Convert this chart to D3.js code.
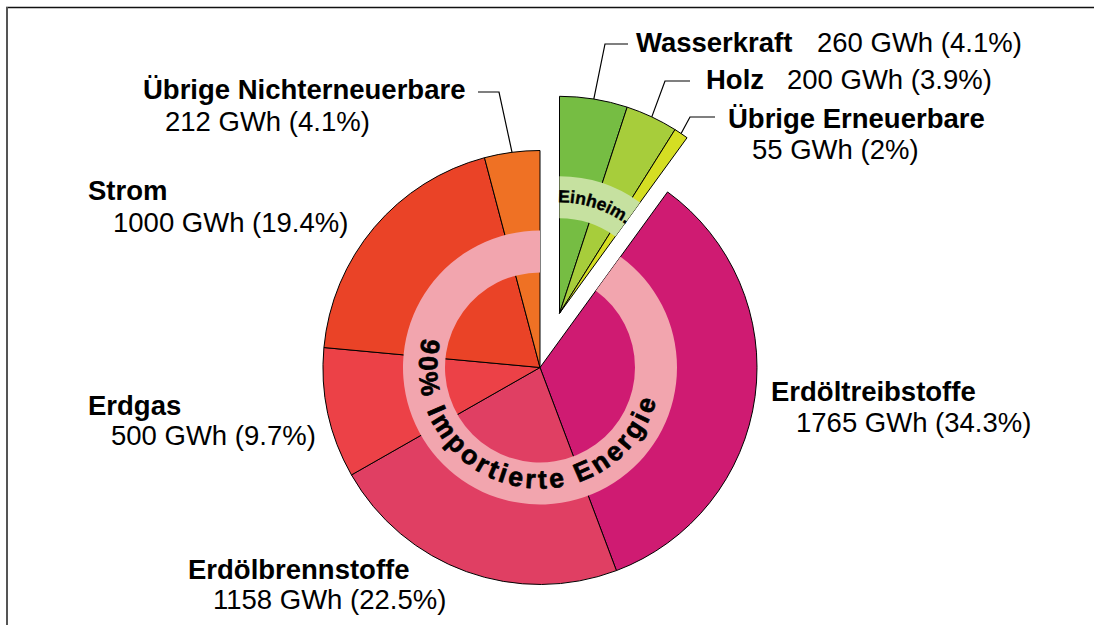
<!DOCTYPE html>
<html>
<head>
<meta charset="utf-8">
<script src="https://cdn.jsdelivr.net/npm/d3@7"></script>
<style>
  body { margin: 0; background: #fff; }
  text { font-family: "Liberation Sans", Arial, Helvetica, sans-serif; }
  .ring-text { font-family: "Liberation Sans Narrow", "Arial Narrow", sans-serif; font-weight: bold; }
</style>
</head>
<body>
<svg id="chart"></svg>
<script>
const WIDTH = 1094;
const HEIGHT = 625;

// data, clockwise from 12 o'clock
const SOURCES = ["Wasserkraft", "Holz", "Übrige Erneuerbare", "Erdöltreibstoffe",
                 "Erdölbrennstoffe", "Erdgas", "Strom", "Übrige Nichterneuerbare"];
const GWH = [260, 200, 55, 1765, 1158, 500, 1000, 212];
const SHARES = ["4.1%", "3.9%", "2%", "34.3%", "22.5%", "9.7%", "19.4%", "4.1%"];
const DOMESTIC = [true, true, true, false, false, false, false, false];
const RING_LABELS = {domestic: "Einheim.", imported: "90% Importierte Energie"};

const COLORS = {
  "Wasserkraft": "#76bd43",
  "Holz": "#a7cd3b",
  "Übrige Erneuerbare": "#d5de23",
  "Erdöltreibstoffe": "#cf1b72",
  "Erdölbrennstoffe": "#e03f63",
  "Erdgas": "#ec4147",
  "Strom": "#ea4327",
  "Übrige Nichterneuerbare": "#ef7124"
};
const RING_COLORS = {domestic: "#c6e1a0", imported: "#f2a5ae"};

// label layout: bold name at (x,y), value at (vx,vy); leader = [text end x, elbow x, y]
const LABEL_POS = {
  "Wasserkraft":             {x: 636, y: 52,  vx: 817, vy: 52,  leader: [628, 605, 44]},
  "Holz":                    {x: 706, y: 89,  vx: 787, vy: 89,  leader: [690, 665, 81]},
  "Übrige Erneuerbare":      {x: 728, y: 128, vx: 752, vy: 159, leader: [715, 690, 117]},
  "Erdöltreibstoffe":        {x: 771, y: 401, vx: 796, vy: 432},
  "Erdölbrennstoffe":        {x: 188, y: 579, vx: 213, vy: 609},
  "Erdgas":                  {x: 88,  y: 415, vx: 111, vy: 445},
  "Strom":                   {x: 88,  y: 200, vx: 113, vy: 232},
  "Übrige Nichterneuerbare": {x: 143, y: 99,  vx: 165, vy: 131, leader: [478, 499, 92]}
};

const CX = 540, CY = 367.5;
const R = 217;
const RING_IN = 95, RING_OUT = 137;
const EXPLODE = 57.6, EXPLODE_ANGLE = 19.8 * Math.PI / 180;
const FONT_SIZE = 27.5;
const DEG = Math.PI / 180;

const offset = [EXPLODE * Math.sin(EXPLODE_ANGLE), -EXPLODE * Math.cos(EXPLODE_ANGLE)];

let svg = d3.select("#chart")
            .attr("width", WIDTH)
            .attr("height", HEIGHT);

// frame
svg.append("line").attr("x1", 6).attr("x2", WIDTH).attr("y1", 7.5).attr("y2", 7.5)
   .attr("stroke", "#111").attr("stroke-width", 1.6);
svg.append("line").attr("x1", 7).attr("x2", 7).attr("y1", 7).attr("y2", HEIGHT)
   .attr("stroke", "#555").attr("stroke-width", 2);

const rows = SOURCES.map((name, i) => ({name, gwh: GWH[i], share: SHARES[i], domestic: DOMESTIC[i]}));
const arcs = d3.pie().sort(null).value(d => d.gwh)(rows);

const sliceArc = d3.arc().innerRadius(0).outerRadius(R);
const ringArc = d3.arc().innerRadius(RING_IN).outerRadius(RING_OUT);

const buildGroup = (key, dx, dy) => {
  let part = arcs.filter(a => a.data.domestic === (key === "domestic"));
  let g = svg.append("g").attr("transform", `translate(${CX + dx},${CY + dy})`);

  g.selectAll("path.slice").data(part).enter()
   .append("path")
   .attr("class", "slice")
   .attr("d", sliceArc)
   .attr("fill", d => COLORS[d.data.name])
   .attr("stroke", "#000")
   .attr("stroke-width", 1)
   .attr("stroke-linejoin", "round");

  const a0 = d3.min(part, d => d.startAngle);
  const a1 = d3.max(part, d => d.endAngle);
  g.append("path")
   .attr("d", ringArc({startAngle: a0, endAngle: a1}))
   .attr("fill", RING_COLORS[key]);

  return {g, a0, a1, part, dx, dy};
};

const domestic = buildGroup("domestic", offset[0], offset[1]);
const imported = buildGroup("imported", 0, 0);

// text along the rings (angles are clockwise from 12 o'clock, d3.path wants them from 3 o'clock)
const ringTextPath = (r, mid, half, ccw) => {
  let p = d3.path();
  let s = ccw ? mid + half : mid - half;
  let e = ccw ? mid - half : mid + half;
  p.arc(0, 0, r, s - Math.PI / 2, e - Math.PI / 2, ccw);
  return p.toString();
};

const addRingText = (grp, id, label, r, mid, ccw, size, targetLen, weight) => {
  grp.g.append("path").attr("id", id).attr("d", ringTextPath(r, mid, Math.PI * 0.6, ccw))
       .attr("fill", "none");
  let t = grp.g.append("text")
               .attr("class", "ring-text")
               .attr("font-size", size)
               .attr("fill", "#000")
               .attr("stroke", "#000")
               .attr("stroke-width", weight)
               .attr("stroke-linejoin", "round");
  t.append("textPath")
   .attr("href", "#" + id)
   .attr("startOffset", "50%")
   .attr("text-anchor", "middle")
   .text(label);
  let len = t.node().getComputedTextLength();
  t.attr("letter-spacing", Math.max(0, (targetLen - len) / (label.length - 1)));
};

addRingText(imported, "imp-path", RING_LABELS.imported, 121, 194.3 * DEG, true, 26.5, 178 * DEG * 121, 0.7);
addRingText(domestic, "dom-path", RING_LABELS.domestic, 111, (domestic.a0 + domestic.a1) / 2, false, 17.5, 32 * DEG * 111, 0.4);

// leader lines
const lineGen = d3.line();
[domestic, imported].forEach(grp => {
  grp.part.forEach(a => {
    let pos = LABEL_POS[a.data.name];
    if (!pos.leader) return;
    let mid = (a.startAngle + a.endAngle) / 2;
    let px = CX + grp.dx + R * Math.sin(mid);
    let py = CY + grp.dy - R * Math.cos(mid);
    let [tx, ex, ly] = pos.leader;
    svg.append("path")
       .attr("d", lineGen([[tx, ly], [ex, ly], [px, py]]))
       .attr("fill", "none")
       .attr("stroke", "#000")
       .attr("stroke-width", 1.2);
  });
});

// labels
let labels = svg.selectAll("g.label").data(rows).enter().append("g").attr("class", "label");
labels.append("text")
      .attr("x", d => LABEL_POS[d.name].x)
      .attr("y", d => LABEL_POS[d.name].y)
      .attr("font-size", FONT_SIZE)
      .attr("font-weight", "bold")
      .attr("fill", "#000")
      .text(d => d.name);
labels.append("text")
      .attr("x", d => LABEL_POS[d.name].vx)
      .attr("y", d => LABEL_POS[d.name].vy)
      .attr("font-size", FONT_SIZE)
      .attr("fill", "#000")
      .text(d => `${d.gwh} GWh (${d.share})`);
</script>
</body>
</html>
